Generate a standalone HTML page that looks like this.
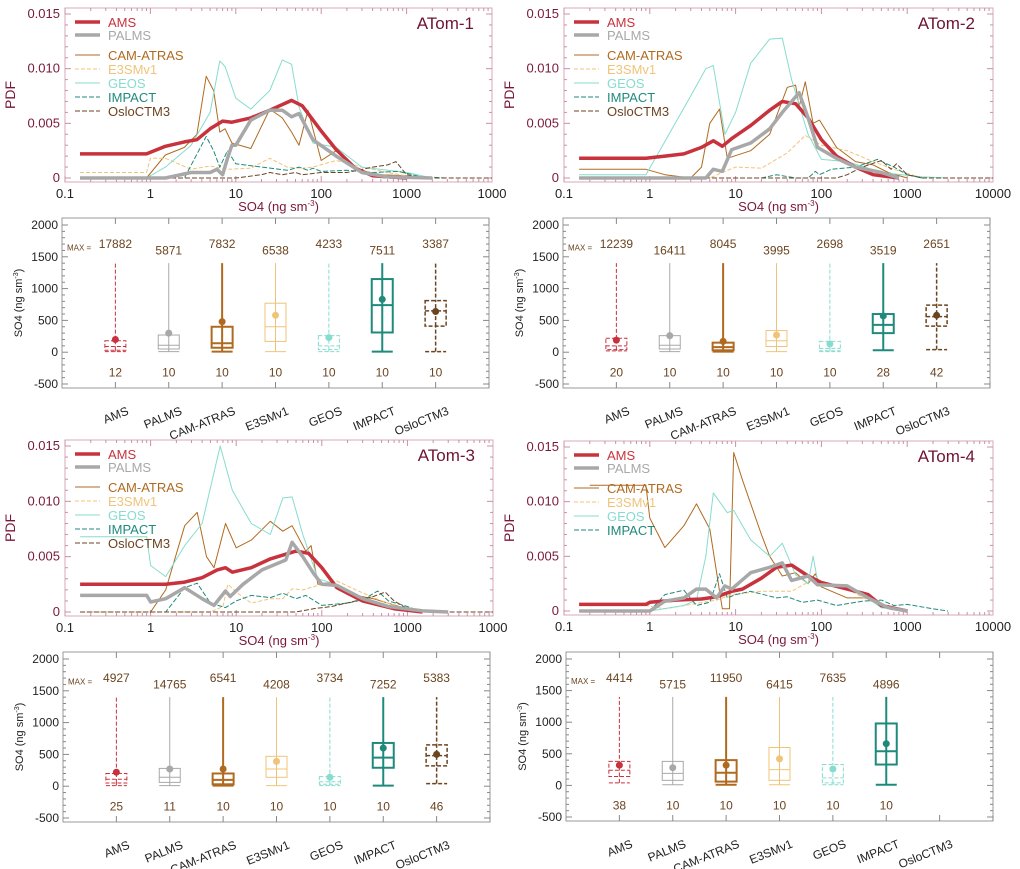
<!DOCTYPE html>
<html><head><meta charset="utf-8"><style>
body{margin:0;background:#fff}
svg{display:block;font-family:"Liberation Sans",sans-serif}
</style></head><body>
<svg id="fig" width="1020" height="869" viewBox="0 0 1020 869"></svg>
<script>
const NS="http://www.w3.org/2000/svg";
const svg=document.getElementById('fig');
const seriesNames=["AMS","PALMS","CAM-ATRAS","E3SMv1","GEOS","IMPACT","OsloCTM3"];
const panelTitles=["ATom-1","ATom-2","ATom-3","ATom-4"];
const xTickVals=[0.1,1,10,100,1000,10000];
const xTickLabelsLeft=["0.1","1","10","100","1000","1000"];
const xTickLabelsRight=["0.1","1","10","100","1000","10000"];
const yTickVals=[0,0.005,0.010,0.015];
const yTickLabels=["0","0.005","0.010","0.015"];
const boxTickVals=[-500,0,500,1000,1500,2000];
// PDF data: x (ng sm-3), y (x1e-3)
const a1AmsX=[0.15,0.9,1.5,2.5,3.5,5,7,9,15,25,45,60,100,150,250,400,1000];
const a1AmsY=[2.2,2.2,2.9,3.3,3.5,4.5,5.2,5.1,5.5,6.2,7.1,6.6,4.3,2.6,0.9,0.2,0];
const a1PalX=[0.15,1.5,3,5,6,7,8,9,10,15,25,35,45,55,80,150,300,600,2000];
const a1PalY=[0,0,0.5,0.5,0.8,0.3,1.8,3,3,5.3,6.2,6.2,5.6,5.9,3.5,2.0,0.5,0.1,0];
const a1CamX=[0.9,1.5,2.5,3.5,4.5,5.5,6.5,7.5,9,15,25,35,45,55,70,100,150,250,500,1000,2000];
const a1CamY=[0,2.1,2.8,4,9.3,8,4.2,4.5,3.2,2.7,6.3,5.5,4.2,3,6.2,1.6,2.5,0.8,0.3,0.2,0];
const a1E3X=[0.15,0.9,1,1.5,3,5,8,15,25,40,60,80,150,300,600,1000,2000];
const a1E3Y=[0.5,0.5,1.8,1.8,0.8,1.1,0.8,0.9,1.8,1.0,0.9,1.0,1.6,1.0,0.5,0.2,0];
const a1GeoX=[0.15,0.9,1.5,3,5,6.5,7.5,10,15,25,35,45,55,80,150,300,1000,2000];
const a1GeoY=[0,0,1.0,3,6,10.7,10.2,7.3,6.3,8,10.8,10.4,6.5,3.2,2.8,1.0,0.5,0];
const a1ImpX=[0.15,2.5,4.5,5.5,6.5,8,10,20,40,55,70,80,100,200,400,800,1500,3000];
const a1ImpY=[0,0,3.8,2.5,1,2.5,1.3,1.0,0.7,1.0,0.7,0.9,0.6,0.7,0.5,0.6,0.1,0];
const a1OslX=[0.15,10,20,25,35,50,60,100,200,400,600,750,1000,1500,10000];
const a1OslY=[0,0,0.3,0.5,0.3,0.5,0.3,0.5,0.5,1.0,1.2,1.5,0.3,0,0];
const a2AmsX=[0.15,0.9,1.5,2.5,4,5.5,7,9,15,25,35,50,70,100,150,250,400,800];
const a2AmsY=[1.8,1.8,2.0,2.2,2.8,3.4,2.9,3.6,4.8,6.2,7.0,6.8,5.5,3.5,2.0,1.0,0.3,0];
const a2PalX=[0.15,4.5,5.5,7,9,15,25,35,55,70,90,150,250,500,800];
const a2PalY=[0,0,0.8,0.6,2.6,3.2,4.5,6,7.8,5.5,2.8,1.8,1.0,0.5,0];
const a2CamX=[0.15,0.9,1.5,3,4,5,6.5,8,15,25,40,50,55,65,80,95,150,250,400,600,1000];
const a2CamY=[0.8,0.8,0.3,0,1,5,6.3,1.8,2.5,4,8.3,8.5,6.5,8.8,5,5.3,2.8,1.5,1.2,0.5,0];
const a2E3X=[0.15,5,7,10,20,40,65,100,200,400,700,1500];
const a2E3Y=[0,0,0.5,1.0,0.9,2.3,3.9,3.0,2.5,1.5,0.8,0];
const a2GeoX=[0.15,0.9,1.2,3,4.5,5.5,7.5,10,15,25,35,45,70,100,200,500,1500,3000];
const a2GeoY=[0.3,0.3,2,7.5,10,10.3,4,6,10.5,12.7,12.8,9,4,1.7,1.5,0.5,0.1,0];
const a2ImpX=[0.15,20,30,50,70,85,95,130,250,450,700,1000,1500];
const a2ImpY=[0,0,0.3,0,0,0.6,0.3,0.8,1.0,1.7,1.0,0.3,0];
const a2OslX=[0.15,150,200,300,500,650,750,1000,1500,10000];
const a2OslY=[0,0,0.3,1.0,1.6,0.8,1.3,0.3,0,0];
const a3AmsX=[0.15,1.5,2.5,4,6,7.5,9,15,25,50,70,100,150,300,700,1500];
const a3AmsY=[2.5,2.5,2.7,3.1,3.8,4.0,3.6,4.0,4.8,5.5,5.3,4,2.2,1,0.3,0];
const a3PalX=[0.15,0.9,1,1.5,2.5,4,5.5,7.5,8.5,12,20,38,45,60,80,100,150,300,600,1500,3000];
const a3PalY=[1.5,1.5,0.9,1.2,2.2,1.2,0.6,1.9,1.4,2.5,3.8,4.7,6.3,5,3.5,2.5,2.4,1.2,0.5,0.1,0];
const a3CamX=[1,1.5,2.5,3.5,4.5,5.5,7.5,10,15,25,35,45,65,75,90,130,250,400,800,1500];
const a3CamY=[0,2,7.8,9,5,4,8,5.8,6.5,8.2,7.3,7.8,5.5,6,2.5,2.7,1.5,1.2,0.5,0];
const a3E3X=[0.15,5,7,8,10,15,25,35,45,60,100,150,250,400,700,1500];
const a3E3Y=[0,0,0.5,2.5,1.8,0.8,1.2,1.2,2.1,2.0,2.5,2.8,2.0,1.3,0.6,0];
const a3GeoX=[0.15,0.9,1,1.5,2.5,4,6.5,9,15,25,35,45,60,90,150,250,500,1500];
const a3GeoY=[6.8,6.8,4.2,3.2,6,8,15,11,8,7,10.3,10.4,7,3,2.5,1.5,0.5,0];
const a3ImpX=[0.15,1.5,2.5,3.5,5,7.5,10,15,25,35,50,65,100,200,300,450,600,1000,1500];
const a3ImpY=[0,0,2.2,2.6,0.8,0.4,1.0,1.5,1.3,1.7,1.2,1.5,0.6,0.8,1.1,1.9,1.0,0.5,0];
const a3OslX=[0.15,50,80,130,250,400,550,700,1000,1500,10000];
const a3OslY=[0,0,0.3,0.5,1.0,1.4,1.8,1.0,0.3,0,0];
const a4AmsX=[0.15,0.9,1,2,4,6,9,12,20,30,45,70,100,200,350,500,1000];
const a4AmsY=[0.6,0.6,0.8,1.0,1.1,1.3,1.8,2.0,3.0,4.0,4.2,3.2,2.6,2.0,1.5,0.5,0];
const a4PalX=[0.15,1,1.5,2.5,3.5,4.5,6,7.5,9,15,25,35,45,70,90,200,350,600,1000];
const a4PalY=[0,0,0.9,1.2,2.0,2.0,1.2,2.3,2.0,3.5,4.0,4.4,2.8,3.2,2.4,2.3,1.2,0.3,0];
const a4CamX=[0.2,0.9,1.0,1.5,2.5,3.5,5,7,8.5,9.5,12,20,25,35,50,70,85,100,200,400,600,1000];
const a4CamY=[11.5,11.5,8.5,5.8,7.8,9.8,7.5,0.2,0.2,14.5,12,7,5,3.2,3.5,2.5,3.4,2.2,1.2,1.2,0.3,0];
const a4E3X=[0.15,0.9,1.5,3,6,9,20,45,65,80,100,200,350,600,1000];
const a4E3Y=[0.5,0.5,0.2,0.6,1.0,1.5,1.8,1.8,2.5,3.0,2.4,2.0,1.0,0.3,0];
const a4GeoX=[0.15,1,2.5,3.5,4.5,5.5,8,9.5,15,25,35,50,70,80,90,150,300,500,1000];
const a4GeoY=[0,0,0.5,1.0,5,10.8,9,9.2,6.5,5,6.2,3.3,2.5,5.0,2.8,2.4,1.5,0.3,0];
const a4ImpX=[0.15,1,1.5,2.5,3.5,5,6.5,8,10,15,30,40,60,90,150,300,500,700,1000,2000,3000];
const a4ImpY=[0,0,1.5,1.9,0.5,0.8,3.4,1.2,1.5,1.8,1.2,1.3,0.8,1.0,0.5,0.9,1.0,0.5,0.6,0.2,0];
const pdfX=[[a1AmsX,a1PalX,a1CamX,a1E3X,a1GeoX,a1ImpX,a1OslX],[a2AmsX,a2PalX,a2CamX,a2E3X,a2GeoX,a2ImpX,a2OslX],[a3AmsX,a3PalX,a3CamX,a3E3X,a3GeoX,a3ImpX,a3OslX],[a4AmsX,a4PalX,a4CamX,a4E3X,a4GeoX,a4ImpX]];
const pdfY=[[a1AmsY,a1PalY,a1CamY,a1E3Y,a1GeoY,a1ImpY,a1OslY],[a2AmsY,a2PalY,a2CamY,a2E3Y,a2GeoY,a2ImpY,a2OslY],[a3AmsY,a3PalY,a3CamY,a3E3Y,a3GeoY,a3ImpY,a3OslY],[a4AmsY,a4PalY,a4CamY,a4E3Y,a4GeoY,a4ImpY]];
// Box data per campaign
const boxQ1=[[30,50,70,170,40,310,410],[40,50,30,90,20,300,410],[50,60,30,140,30,290,320],[140,80,60,80,40,330]];
const boxMed=[[90,110,140,400,100,740,650],[100,110,80,180,60,430,560],[110,140,100,270,70,450,480],[240,190,200,250,120,540]];
const boxQ3=[[180,270,400,770,260,1150,810],[220,260,150,340,170,600,740],[200,280,200,470,150,680,650],[380,380,400,600,330,980]];
const boxMean=[[200,300,480,580,230,830,640],[190,260,170,270,130,570,580],[220,270,270,390,140,600,500],[320,280,320,420,260,660]];
const boxMin=[[10,10,10,10,10,10,10],[20,10,10,10,10,30,40],[10,10,10,10,10,10,40],[40,10,10,10,10,10]];
const boxTop=1400;
const boxMax=[[17882,5871,7832,6538,4233,7511,3387],[12239,16411,8045,3995,2698,3519,2651],[4927,14765,6541,4208,3734,7252,5383],[4414,5715,11950,6415,7635,4896]];
const boxN=[[12,10,10,10,10,10,10],[20,10,10,10,10,28,42],[25,11,10,10,10,10,46],[38,10,10,10,10,10]];

const colors=["#c8323c","#a8a8a8","#b06a20","#efc47a","#86dccf","#1f8a7c","#6b4420"];
const widths=[3.5,3.5,1,1,1,1,1];
const dashes=[null,null,null,"4,2",null,"5,2","5,2"];
const boxW=[1,1,2,1,1,2,1.5];
const boxDash=["4,2",null,null,null,"4,2",null,"4,2"];
const pdfPanels=[{x0:65,x1:492,yb:178,yt:14,ft:8,fb:182},{x0:564,x1:993,yb:178,yt:14,ft:8,fb:182},{x0:65,x1:493,yb:612,yt:446,ft:440,fb:616},{x0:564,x1:993,yb:611,yt:447,ft:441,fb:615}];
const boxPanels=[{x0:62,x1:489,y2k:225,ym5:384},{x0:563,x1:990,y2k:225,ym5:384},{x0:63,x1:490,y2k:659,ym5:818},{x0:566,x1:993,y2k:659,ym5:817}];

function el(tag,attrs,parent){const e=document.createElementNS(NS,tag);for(const k in attrs)e.setAttribute(k,attrs[k]);(parent||svg).appendChild(e);return e;}
function txt(s,attrs,parent){const e=el('text',attrs,parent);e.textContent=s;return e;}

pdfPanels.forEach((P,pi)=>{
  const g=el('g',{});
  
  
  const xs=v=>P.x0+(Math.log10(v)+1)/5*(P.x1-P.x0);
  const ys=v=>P.yb-v/0.015*(P.yb-P.yt);
  el('rect',{x:P.x0,y:P.ft,width:P.x1-P.x0,height:P.fb-P.ft,fill:'none',stroke:'#d8a8b8','stroke-width':1},g);
  for(let d=0;d<5;d++)for(let m=1;m<10;m++){const v=Math.pow(10,d-1)*m;const x=xs(v);const L=m===1?6:3;
    el('line',{x1:x,x2:x,y1:P.fb,y2:P.fb-L,stroke:'#c890a8'},g);el('line',{x1:x,x2:x,y1:P.ft,y2:P.ft+L,stroke:'#c890a8'},g);}
  const labs=(pi%2===0)?xTickLabelsLeft:xTickLabelsRight;
  xTickVals.forEach((v,i)=>{const t=txt(labs[i],{x:xs(v),y:P.fb+16,'font-size':13,fill:'#222','text-anchor':'middle'},g);
    });
  for(let k=0;k<=15;k++){const y=ys(k*0.001);const L=k%5===0?6:3;
    el('line',{x1:P.x0,x2:P.x0+L,y1:y,y2:y,stroke:'#c890a8'},g);el('line',{x1:P.x1,x2:P.x1-L,y1:y,y2:y,stroke:'#c890a8'},g);}
  yTickVals.forEach((v,i)=>{const t=txt(yTickLabels[i],{x:P.x0-5,y:ys(v)+4,'font-size':13,fill:'#7a1838','text-anchor':'end'},g);
    });
  const yl=txt('PDF',{x:0,y:0,'font-size':14,fill:'#7a1838','text-anchor':'middle',transform:`translate(${P.x0-50},${(P.ft+P.fb)/2}) rotate(-90)`},g);
  
  const xl=el('text',{x:(P.x0+P.x1)/2,y:P.fb+29,'font-size':13,fill:'#7a1838','text-anchor':'middle'},g);
  xl.innerHTML='SO4 (ng sm<tspan dy="-5" font-size="8">-3</tspan><tspan dy="5">)</tspan>';
  
  const cp=el('clipPath',{id:'c'+pi},g);el('rect',{x:P.x0,y:P.ft,width:P.x1-P.x0,height:P.fb-P.ft},cp);
  const order=[2,3,4,5,6,0,1];
  order.forEach(si=>{if(si>=pdfX[pi].length)return;
    const X=pdfX[pi][si],Y=pdfY[pi][si];
    const d=X.map((v,i)=>(i?'L':'M')+xs(v).toFixed(1)+','+ys(Y[i]/1000).toFixed(1)).join('');
    const p=el('path',{d:d,fill:'none',stroke:colors[si],'stroke-width':widths[si],'clip-path':`url(#c${pi})`,'stroke-linejoin':'round'},g);
    if(dashes[si])p.setAttribute('stroke-dasharray',dashes[si]);
    
    
  });
  const rows=[22,35,55,69,83,97,111];
  seriesNames.forEach((n,si)=>{if(si>=pdfX[pi].length)return;const lg=el('g',{},g);
    
    const yy=P.ft+rows[si]-8;
    const l=el('line',{x1:P.x0+10,x2:P.x0+35,y1:yy,y2:yy,stroke:colors[si],'stroke-width':widths[si]},lg);
    if(dashes[si])l.setAttribute('stroke-dasharray',dashes[si]);
    txt(n,{x:P.x0+43,y:yy+5,'font-size':13,fill:colors[si]},lg);
  });
  const tt=txt(panelTitles[pi],{x:P.x1-18,y:P.ft+21,'font-size':17,fill:'#6e1430','text-anchor':'end'},g);
  
});

boxPanels.forEach((B,pi)=>{
  const g=el('g',{});
  
  
  const ys=v=>B.y2k+(2000-v)/2500*(B.ym5-B.y2k);
  const slot=(B.x1-B.x0)/8;const xs=i=>B.x0+slot*(i+1);
  const top=ys(2000)-7,bot=ys(-500)+4;
  el('rect',{x:B.x0,y:top,width:B.x1-B.x0,height:bot-top,fill:'none',stroke:'#999','stroke-width':1},g);
  for(let v=-500;v<=2000;v+=100){const y=ys(v);const L=v%500===0?6:3;
    el('line',{x1:B.x0,x2:B.x0+L,y1:y,y2:y,stroke:'#888'},g);el('line',{x1:B.x1,x2:B.x1-L,y1:y,y2:y,stroke:'#888'},g);}
  for(let i=0;i<8;i++){const x=xs(i);el('line',{x1:x,x2:x,y1:bot,y2:bot-6,stroke:'#888'},g);el('line',{x1:x,x2:x,y1:top,y2:top+6,stroke:'#888'},g);}
  boxTickVals.forEach(v=>{const t=txt(String(v),{x:B.x0-4,y:ys(v)+4,'font-size':12,fill:'#222','text-anchor':'end'},g);
    });
  const yl=el('text',{'font-size':11,fill:'#222','text-anchor':'middle',transform:`translate(${B.x0-40},${(top+bot)/2}) rotate(-90)`},g);
  yl.innerHTML='SO4 (ng sm<tspan dy="-4" font-size="7">-3</tspan><tspan dy="4">)</tspan>';
  
  txt('MAX =',{x:B.x0+5,y:ys(1650)+3,'font-size':8,fill:'#6b4420'},g);
  seriesNames.forEach((n,si)=>{const x=xs(si);
    const lab=txt(n,{'font-size':12,fill:'#222','text-anchor':'end',transform:`translate(${x+14},${bot+26}) rotate(-22)`},g);
    
    if(si>=boxQ1[pi].length)return;
    const bg=el('g',{stroke:colors[si],'stroke-width':boxW[si],fill:'none'},g);
    
    if(boxDash[si])bg.setAttribute('stroke-dasharray',boxDash[si]);
    const w=10.5;
    el('line',{x1:x,x2:x,y1:ys(boxMin[pi][si]),y2:ys(boxTop)},bg);
    el('line',{x1:x-w,x2:x+w,y1:ys(boxMin[pi][si]),y2:ys(boxMin[pi][si])},bg);
    el('rect',{x:x-w,y:ys(boxQ3[pi][si]),width:2*w,height:ys(boxQ1[pi][si])-ys(boxQ3[pi][si]),fill:'#fff'},bg);
    el('line',{x1:x-w,x2:x+w,y1:ys(boxMed[pi][si]),y2:ys(boxMed[pi][si])},bg);
    el('line',{x1:x,x2:x,y1:ys(boxQ1[pi][si]),y2:ys(boxQ3[pi][si])},bg);
    const dot=el('circle',{cx:x,cy:ys(boxMean[pi][si]),r:3.5,fill:colors[si],stroke:'none'},g);
    
    const mv=txt(String(boxMax[pi][si]),{x:x,y:ys(si%2?1600:1700)+4,'font-size':12,fill:'#6b4420','text-anchor':'middle'},g);
    
    const nv=txt(String(boxN[pi][si]),{x:x,y:ys(-300)+5,'font-size':12,fill:'#6b4420','text-anchor':'middle'},g);
    
  });
});
</script>
</body></html>
